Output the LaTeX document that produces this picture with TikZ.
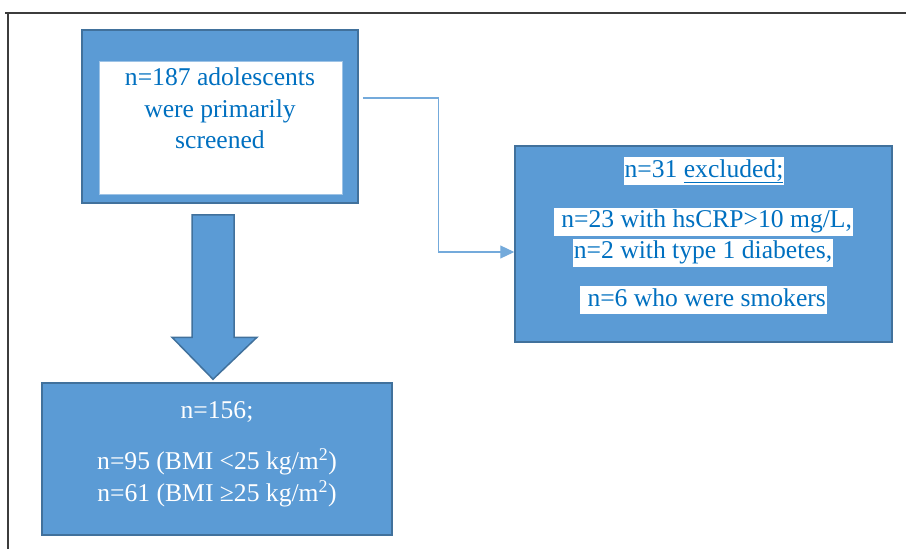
\documentclass[tikz,border=0pt]{standalone}
\usepackage{fontspec}
\setmainfont{Liberation Serif}
\definecolor{boxblue}{RGB}{91,155,213}
\definecolor{boxedge}{RGB}{65,113,156}
\definecolor{txtblue}{RGB}{0,112,192}
\definecolor{framegray}{RGB}{60,60,60}
\usetikzlibrary{arrows.meta,positioning,calc}
\newcommand{\flowfont}{\fontsize{25.6}{31.5}\selectfont}
\tikzset{
  bbox/.style={rectangle,draw=boxedge,line width=1.5pt,fill=boxblue,inner sep=0pt},
  wbox/.style={rectangle,draw=boxblue!60,line width=0.8pt,fill=white,inner sep=0pt},
  hl/.style={fill=white,inner xsep=1pt,inner ysep=2pt,text height=18pt,
             text depth=6pt,text=txtblue,font=\flowfont},
  txt/.style={font=\flowfont,align=center,inner sep=0pt,text=#1},
  txt/.default=txtblue,
  conn/.style={-{Triangle[length=14pt,width=13pt]},line width=1.1pt,draw=boxblue!85},
  bigarr/.style={draw=boxedge,line width=1.5pt,fill=boxblue,line join=miter},
}

\begin{document}
\begin{tikzpicture}[x=1pt,y=-1pt]
  \useasboundingbox (0,0) rectangle (906,549);
  % frame
  \draw[framegray,line width=1.5pt] (5,13) -- (906,13);
  \draw[framegray,line width=1.5pt] (8,13) -- (8,549);
  % screened
  \node[bbox,minimum width=276pt,minimum height=173pt] (screen) at (220,116.5) {};
  \node[wbox,minimum width=243pt,minimum height=133pt] (screenin) at (220.5,127.5) {};
  \node[txt] (screentxt) at (220,108.5) {n=187 adolescents\\were primarily\\screened};
  % excluded
  \node[bbox,minimum width=377pt,minimum height=196pt] (excl) at (703.5,244) {};
  \node[hl] (exa) at (704,171) {n=31 \underline{excluded;}};
  \node[hl] (exb) at (703.5,221.5) {\ n=23 with hsCRP>10 mg/L,};
  \node[hl] (exc) at (703,252.5) {n=2 with type 1 diabetes,};
  \node[hl] (exd) at (703.5,300) {\ n=6 who were smokers};
  % final sample
  \node[bbox,minimum width=350pt,minimum height=152pt] (final) at (217,459) {};
  \node[txt=white] (finaltxt) at (217,454)
    {n=156;\\[20pt] n=95 (BMI <25 kg/m\textsuperscript{2})\\ n=61 (BMI ≥25 kg/m\textsuperscript{2})};
  % arrows
  \draw[conn] ([shift={(4pt,18.5pt)}]screen.east) -- ++(76,0) |- ([yshift=-8pt]excl.west);
  \path (screen.south) ++(-7,11) coordinate (dtop);
  \path (final.north) ++(-4,-3) coordinate (dtip);
  \draw[bigarr] ($(dtop)+(-21,0)$) -- ($(dtop)+(21,0)$) -- ($(dtip)+(21,-42)$)
    -- ($(dtip)+(44,-42)$) -- (dtip) -- ($(dtip)+(-41,-42)$)
    -- ($(dtip)+(-21,-42)$) -- cycle;
\end{tikzpicture}
\end{document}
